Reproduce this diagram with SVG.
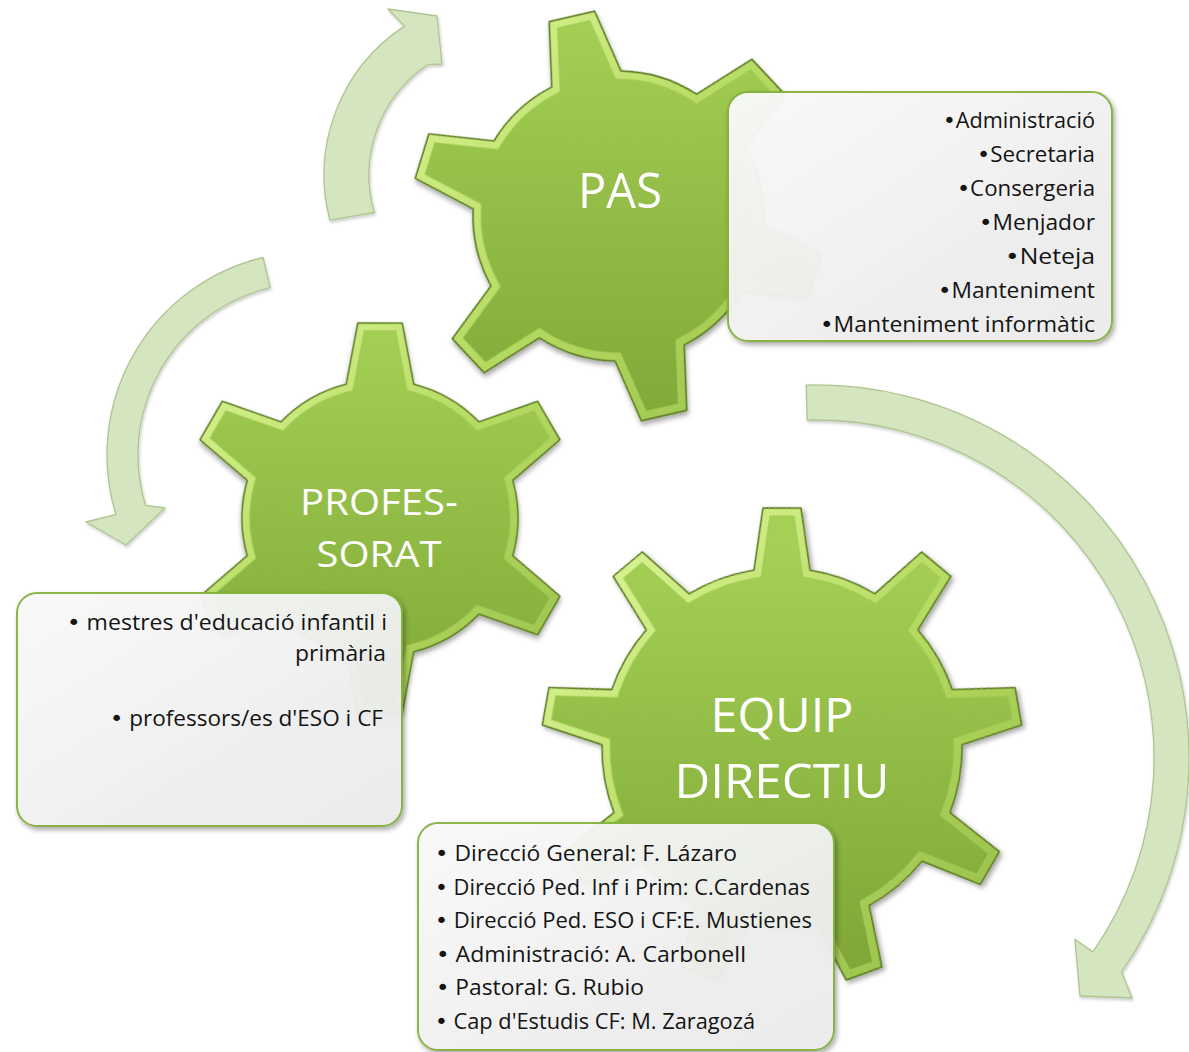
<svg xmlns="http://www.w3.org/2000/svg" xmlns:xlink="http://www.w3.org/1999/xlink" width="1189" height="1052" viewBox="0 0 1189 1052">
<style>
.lbl{fill:#ffffff;font-family:"Open Sans","Noto Sans",sans-serif;text-anchor:middle;}
.bx{font-family:"Open Sans","Noto Sans",sans-serif;fill:#141414;}
.bl{font-family:"DejaVu Sans",sans-serif;}
.arrow{fill:#d4e5bf;stroke:#aec590;stroke-width:1.3;stroke-linejoin:round;}
.box{fill:url(#boxFill);stroke:#86b13f;stroke-width:2;}
.gout{fill:none;stroke:#5a7a20;stroke-width:1.6;stroke-linejoin:round;}
</style>
<defs>
<path id="g6" d="M138.65,-35 L202,-23 L202,23 L138.65,35 A143,143 0 0 1 99.64,102.57 L120.92,163.43 L81.08,186.43 L39.02,137.57 A143,143 0 0 1 -39.02,137.57 L-81.08,186.43 L-120.92,163.43 L-99.64,102.57 A143,143 0 0 1 -138.65,35 L-202,23 L-202,-23 L-138.65,-35 A143,143 0 0 1 -99.64,-102.57 L-120.92,-163.43 L-81.08,-186.43 L-39.02,-137.57 A143,143 0 0 1 39.02,-137.57 L81.08,-186.43 L120.92,-163.43 L99.64,-102.57 A143,143 0 0 1 138.65,-35 Z"/>
<path id="g9" d="M177.81,-28 L240,-19 L240,19 L177.81,28 A180,180 0 0 1 154.21,92.84 L196.06,139.72 L171.64,168.82 L118.21,135.74 A180,180 0 0 1 58.45,170.25 L60.39,233.05 L22.97,239.65 L3.31,179.97 A180,180 0 0 1 -64.66,167.99 L-103.55,217.35 L-136.45,198.35 L-113.16,139.99 A180,180 0 0 1 -157.51,87.12 L-219.03,99.93 L-232.03,64.23 L-176.67,34.5 A180,180 0 0 1 -176.67,-34.5 L-232.03,-64.23 L-219.03,-99.93 L-157.51,-87.12 A180,180 0 0 1 -113.16,-139.99 L-136.45,-198.35 L-103.55,-217.35 L-64.66,-167.99 A180,180 0 0 1 3.31,-179.97 L22.97,-239.65 L60.39,-233.05 L58.45,-170.25 A180,180 0 0 1 118.21,-135.74 L171.64,-168.82 L196.06,-139.72 L154.21,-92.84 A180,180 0 0 1 177.81,-28 Z"/>
<clipPath id="c6"><use href="#g6" xlink:href="#g6"/></clipPath>
<clipPath id="c9"><use href="#g9" xlink:href="#g9"/></clipPath>
<linearGradient id="gf" gradientUnits="userSpaceOnUse" x1="0" y1="-210" x2="0" y2="210">
<stop offset="0" stop-color="#a6d055"/><stop offset="0.5" stop-color="#92bc46"/><stop offset="1" stop-color="#80a738"/>
</linearGradient>
<linearGradient id="gb" gradientUnits="userSpaceOnUse" x1="-200" y1="-200" x2="200" y2="200">
<stop offset="0" stop-color="#dbf596"/><stop offset="0.5" stop-color="#b6db62"/><stop offset="1" stop-color="#98c04a"/>
</linearGradient>
<linearGradient id="gfP" href="#gf" xlink:href="#gf" gradientTransform="rotate(-17)"/>
<linearGradient id="gbP" href="#gb" xlink:href="#gb" gradientTransform="rotate(-17)"/>
<linearGradient id="gfR" href="#gf" xlink:href="#gf" gradientTransform="rotate(-30)"/>
<linearGradient id="gbR" href="#gb" xlink:href="#gb" gradientTransform="rotate(-30)"/>
<linearGradient id="gfE" href="#gf" xlink:href="#gf" gradientTransform="rotate(10)"/>
<linearGradient id="gbE" href="#gb" xlink:href="#gb" gradientTransform="rotate(10)"/>
<linearGradient id="boxFill" x1="0" y1="0" x2="1" y2="1">
<stop offset="0" stop-color="#fbfbfb"/><stop offset="1" stop-color="#ececec"/>
</linearGradient>
<filter id="sh" x="-20%" y="-20%" width="140%" height="140%">
<feDropShadow dx="2" dy="3" stdDeviation="2.5" flood-color="#000" flood-opacity="0.35"/>
</filter>
<filter id="shs" x="-20%" y="-20%" width="140%" height="140%">
<feDropShadow dx="1" dy="2" stdDeviation="1.5" flood-color="#000" flood-opacity="0.2"/>
</filter>
</defs>

<g id="connectors" filter="url(#shs)">
<path class="arrow" d="M329.9,220.2 A178,178 0 0 1 404.5,26.1 L388,9 L437,16 L442,64 L427.6,64.7 A133,133 0 0 0 374.4,212.5 Z"/>
<path class="arrow" d="M263,257.5 A203,203 0 0 0 115.9,514.4 L86,522 L126,545 L165,508 L145.5,505.3 A172,172 0 0 1 270.1,287.7 Z"/>
<path class="arrow" d="M806.2,385.1 A373,373 0 0 1 1121.5,972 L1132,998 L1080,996 L1074.9,939.3 L1092.9,951.9 A338,338 0 0 0 807.2,420.1 Z"/>
</g>

<g id="node-pas">
<g filter="url(#sh)" transform="translate(618,216) rotate(17) scale(1.014)">
<use href="#g6" xlink:href="#g6" fill="url(#gfP)"/>
<use href="#g6" xlink:href="#g6" fill="none" stroke="#a3cc52" stroke-width="17" clip-path="url(#c6)"/>
<use href="#g6" xlink:href="#g6" fill="none" stroke="url(#gbP)" stroke-width="15" clip-path="url(#c6)"/>
<use href="#g6" xlink:href="#g6" class="gout"/>
</g>
<text class="lbl" x="620" y="208" font-size="50" textLength="84" lengthAdjust="spacingAndGlyphs">PAS</text>
<g filter="url(#sh)">
<rect class="box" x="728" y="92" width="384" height="249" rx="20" opacity="0.94"/>
</g>
<g class="bx" font-size="21">
<text x="943" y="128" textLength="152" lengthAdjust="spacingAndGlyphs"><tspan class="bl">•</tspan>Administració</text>
<text x="977" y="162" textLength="118" lengthAdjust="spacingAndGlyphs"><tspan class="bl">•</tspan>Secretaria</text>
<text x="957" y="196" textLength="138" lengthAdjust="spacingAndGlyphs"><tspan class="bl">•</tspan>Consergeria</text>
<text x="979" y="230" textLength="116" lengthAdjust="spacingAndGlyphs"><tspan class="bl">•</tspan>Menjador</text>
<text x="1005" y="264" textLength="90" lengthAdjust="spacingAndGlyphs"><tspan class="bl">•</tspan>Neteja</text>
<text x="938" y="298" textLength="157" lengthAdjust="spacingAndGlyphs"><tspan class="bl">•</tspan>Manteniment</text>
<text x="820" y="332" textLength="275" lengthAdjust="spacingAndGlyphs"><tspan class="bl">•</tspan>Manteniment informàtic</text>
</g>
</g>

<g id="node-professorat">
<g filter="url(#sh)" transform="translate(380,518) rotate(30) scale(0.965)">
<use href="#g6" xlink:href="#g6" fill="url(#gfR)"/>
<use href="#g6" xlink:href="#g6" fill="none" stroke="#a3cc52" stroke-width="17" clip-path="url(#c6)"/>
<use href="#g6" xlink:href="#g6" fill="none" stroke="url(#gbR)" stroke-width="15" clip-path="url(#c6)"/>
<use href="#g6" xlink:href="#g6" class="gout"/>
</g>
<text class="lbl" x="379" y="515" font-size="37" textLength="158" lengthAdjust="spacingAndGlyphs">PROFES-</text>
<text class="lbl" x="379" y="567" font-size="37" textLength="125" lengthAdjust="spacingAndGlyphs">SORAT</text>
<g filter="url(#sh)">
<rect class="box" x="17" y="593" width="385" height="233" rx="20" opacity="0.94"/>
</g>
<g class="bx" font-size="22">
<text x="67" y="630" textLength="320" lengthAdjust="spacingAndGlyphs"><tspan class="bl">•</tspan> mestres d'educació infantil i</text>
<text x="295" y="661" textLength="91" lengthAdjust="spacingAndGlyphs">primària</text>
<text x="110" y="726" textLength="273" lengthAdjust="spacingAndGlyphs"><tspan class="bl">•</tspan> professors/es d'ESO i CF</text>
</g>
</g>

<g id="node-equip">
<g filter="url(#sh)" transform="translate(782,748) rotate(-10)">
<use href="#g9" xlink:href="#g9" fill="url(#gfE)"/>
<use href="#g9" xlink:href="#g9" fill="none" stroke="#a3cc52" stroke-width="17" clip-path="url(#c9)"/>
<use href="#g9" xlink:href="#g9" fill="none" stroke="url(#gbE)" stroke-width="15" clip-path="url(#c9)"/>
<use href="#g9" xlink:href="#g9" class="gout"/>
</g>
<text class="lbl" x="782" y="732" font-size="47" textLength="143" lengthAdjust="spacingAndGlyphs">EQUIP</text>
<text class="lbl" x="782" y="798" font-size="47" textLength="215" lengthAdjust="spacingAndGlyphs">DIRECTIU</text>
<g filter="url(#sh)">
<rect class="box" x="418" y="823" width="416" height="227" rx="20" opacity="0.94"/>
</g>
<g class="bx" font-size="22">
<text x="435" y="861" textLength="302" lengthAdjust="spacingAndGlyphs"><tspan class="bl">•</tspan> Direcció General: F. Lázaro</text>
<text x="435" y="895" textLength="375" lengthAdjust="spacingAndGlyphs"><tspan class="bl">•</tspan> Direcció Ped. Inf i Prim: C.Cardenas</text>
<text x="435" y="928" textLength="377" lengthAdjust="spacingAndGlyphs"><tspan class="bl">•</tspan> Direcció Ped. ESO i CF:E. Mustienes</text>
<text x="436" y="962" textLength="310" lengthAdjust="spacingAndGlyphs"><tspan class="bl">•</tspan> Administració: A. Carbonell</text>
<text x="436" y="995" textLength="208" lengthAdjust="spacingAndGlyphs"><tspan class="bl">•</tspan> Pastoral: G. Rubio</text>
<text x="435" y="1029" textLength="320" lengthAdjust="spacingAndGlyphs"><tspan class="bl">•</tspan> Cap d'Estudis CF: M. Zaragozá</text>
</g>
</g>
</svg>
